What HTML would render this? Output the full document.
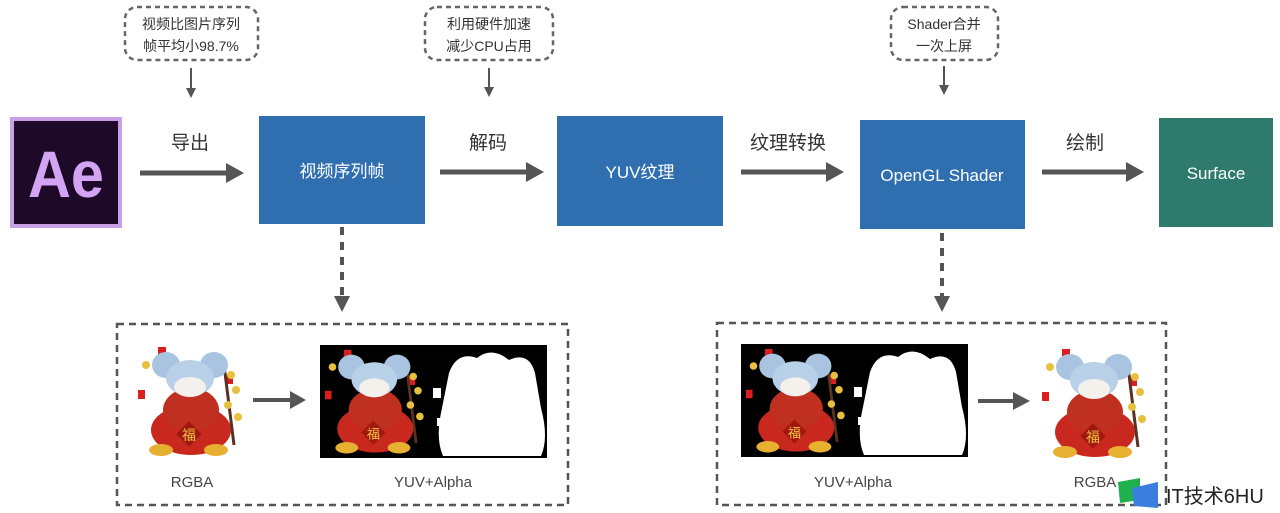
<!DOCTYPE html>
<html><head><meta charset="utf-8"><style>
html,body{margin:0;padding:0;background:#fff;}
svg{display:block;font-family:"Liberation Sans","Noto Sans CJK SC",sans-serif;}
</style></head><body>
<svg width="1280" height="513" viewBox="0 0 1280 513" xmlns="http://www.w3.org/2000/svg">
<defs>
<marker id="ah" markerWidth="10" markerHeight="10" refX="8" refY="5" orient="auto" markerUnits="userSpaceOnUse"><path d="M0,0 L10,5 L0,10z" fill="#555"/></marker>
<g id="mouse">
  <circle cx="10" cy="20" r="4" fill="#e8c040"/><rect x="22" y="2" width="8" height="10" fill="#d82020"/>
  <rect x="2" y="45" width="7" height="9" fill="#d82020"/><rect x="90" y="30" width="7" height="9" fill="#d82020"/>
  <path d="M88 20 L98 100" stroke="#5a3020" stroke-width="3"/>
  <circle cx="95" cy="30" r="4" fill="#e8c040"/><circle cx="100" cy="45" r="4" fill="#e8c040"/><circle cx="92" cy="60" r="4" fill="#e8c040"/><circle cx="102" cy="72" r="4" fill="#e8c040"/>
  <ellipse cx="55" cy="85" rx="40" ry="25" fill="#c8281e"/>
  <ellipse cx="55" cy="65" rx="28" ry="22" fill="#c03020"/>
  <ellipse cx="30" cy="20" rx="14" ry="13" fill="#a8c4e0"/><ellipse cx="78" cy="20" rx="14" ry="13" fill="#a8c4e0"/>
  <ellipse cx="54" cy="33" rx="24" ry="18" fill="#b8d0e8"/><ellipse cx="54" cy="42" rx="16" ry="10" fill="#f4f0ec"/>
  <rect x="44" y="80" width="18" height="18" fill="#a01810" transform="rotate(45 53 89)"/>
  <text x="53" y="95" font-size="14" fill="#f0c040" text-anchor="middle">福</text>
  <ellipse cx="25" cy="105" rx="12" ry="6" fill="#e8b030"/><ellipse cx="80" cy="105" rx="12" ry="6" fill="#e8b030"/>
</g>
<g id="alpha">
  <path d="M12 25 Q20 3 40 10 Q55 -2 72 12 Q92 3 98 25 L104 60 Q112 90 104 108 L6 108 Q-2 90 5 60z" fill="#fff"/>
  <rect x="-4" y="40" width="8" height="10" fill="#fff"/><rect x="0" y="70" width="7" height="8" fill="#fff"/>
</g>
</defs>

<rect x="10" y="117" width="112" height="111" fill="#c9a0e8"/>
<rect x="14" y="121" width="104" height="103" fill="#1e0a28"/>
<text x="66" y="197" font-size="66" font-weight="bold" fill="#d4a4f4" text-anchor="middle" transform="translate(66 0) scale(0.9 1) translate(-66 0)">Ae</text>

<g fill="none" stroke="#666" stroke-width="2.5" stroke-dasharray="5,4">
<rect x="125" y="7" width="133" height="53" rx="12"/>
<rect x="425" y="7" width="128" height="53" rx="12"/>
<rect x="891" y="7" width="107" height="53" rx="12"/>
</g>
<g font-size="14" fill="#333" text-anchor="middle">
<text x="191" y="29">视频比图片序列</text><text x="191" y="51">帧平均小98.7%</text>
<text x="489" y="29">利用硬件加速</text><text x="489" y="51">减少CPU占用</text>
<text x="944" y="29">Shader合并</text><text x="944" y="51">一次上屏</text>
</g>
<g stroke="#555" stroke-width="2" marker-end="url(#ah)">
<line x1="191" y1="68" x2="191" y2="96"/><line x1="489" y1="68" x2="489" y2="95"/><line x1="944" y1="66" x2="944" y2="93"/>
</g>

<rect x="259" y="116" width="166" height="108" fill="#2f6fb0"/>
<rect x="557" y="116" width="166" height="110" fill="#2f6fb0"/>
<rect x="860" y="120" width="165" height="109" fill="#2f6fb0"/>
<rect x="1159" y="118" width="114" height="109" fill="#2e7a6c"/>
<g font-size="17" fill="#fff" text-anchor="middle">
<text x="342" y="177">视频序列帧</text>
<text x="640" y="178">YUV纹理</text>
<text x="942" y="181">OpenGL Shader</text>
<text x="1216" y="179">Surface</text>
</g>

<g stroke="#555" stroke-width="5">
<line x1="140" y1="173" x2="228" y2="173"/><line x1="440" y1="172" x2="528" y2="172"/>
<line x1="741" y1="172" x2="828" y2="172"/><line x1="1042" y1="172" x2="1128" y2="172"/>
</g>
<g fill="#555">
<path d="M226 163 L244 173 L226 183z"/><path d="M526 162 L544 172 L526 182z"/>
<path d="M826 162 L844 172 L826 182z"/><path d="M1126 162 L1144 172 L1126 182z"/>
</g>
<g font-size="19" fill="#333" text-anchor="middle">
<text x="190" y="149">导出</text><text x="488" y="149">解码</text><text x="788" y="149">纹理转换</text><text x="1085" y="149">绘制</text>
</g>

<g stroke="#555" stroke-width="4" stroke-dasharray="8,7">
<line x1="342" y1="227" x2="342" y2="298"/><line x1="942" y1="233" x2="942" y2="298"/>
</g>
<path d="M334 296 L350 296 L342 312z" fill="#555"/><path d="M934 296 L950 296 L942 312z" fill="#555"/>

<g fill="none" stroke="#555" stroke-width="2.5" stroke-dasharray="7,5">
<rect x="117" y="324" width="451" height="181"/>
<rect x="717" y="323" width="449" height="182"/>
</g>

<use href="#mouse" transform="translate(136,345)"/>
<line x1="253" y1="400" x2="292" y2="400" stroke="#555" stroke-width="4"/><path d="M290 391 L306 400 L290 409z" fill="#555"/>
<rect x="320" y="345" width="227" height="113" fill="#000"/>
<use href="#mouse" transform="translate(323,348) scale(0.95)"/>
<use href="#alpha" transform="translate(437,348)"/>
<g font-size="15" fill="#444" text-anchor="middle">
<text x="192" y="487">RGBA</text><text x="433" y="487">YUV+Alpha</text>
<text x="853" y="487">YUV+Alpha</text><text x="1095" y="487">RGBA</text>
</g>

<rect x="741" y="344" width="227" height="113" fill="#000"/>
<use href="#mouse" transform="translate(744,347) scale(0.95)"/>
<use href="#alpha" transform="translate(858,347)"/>
<line x1="978" y1="401" x2="1015" y2="401" stroke="#555" stroke-width="4"/><path d="M1013 392 L1030 401 L1013 410z" fill="#555"/>
<use href="#mouse" transform="translate(1040,347)"/>

<path d="M1118 482 L1140 478 L1140 500 L1120 503z" fill="#20b050"/>
<path d="M1132 488 L1158 482 L1158 508 L1134 506z" fill="#3a7ee0"/>
<text x="1166" y="503" font-size="20" fill="#222">IT技术6HU</text>
</svg>
</body></html>
